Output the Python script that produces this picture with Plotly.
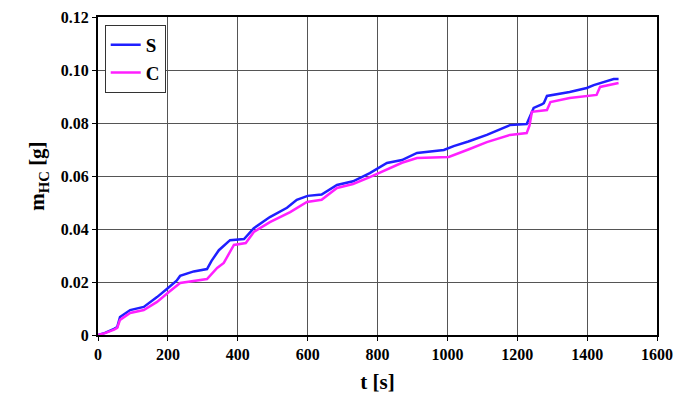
import plotly.graph_objects as go

# Series S (blue)
s_t = [0, 20, 46, 55, 63, 92, 131, 169, 203, 225, 235, 274, 312, 325, 346, 378,
       418, 446, 492, 541, 569, 600, 640, 684, 730, 778, 827, 870, 913, 990,
       1018, 1060, 1113, 1179, 1227, 1235, 1247, 1270, 1276, 1285, 1350, 1399,
       1419, 1476, 1490]
s_m = [0, 0.0008, 0.0023, 0.003, 0.0068, 0.0094, 0.0106, 0.0143, 0.018, 0.0205,
       0.0223, 0.024, 0.0249, 0.028, 0.032, 0.0358, 0.0362, 0.0403, 0.0445,
       0.048, 0.051, 0.0525, 0.053, 0.0566, 0.058, 0.0611, 0.0649, 0.066,
       0.0687, 0.0698, 0.0713, 0.073, 0.0755, 0.0792, 0.0796, 0.082, 0.0857,
       0.087, 0.0875, 0.0902, 0.0917, 0.0932, 0.0943, 0.0966, 0.0966]

# Series C (magenta)
c_t = [0, 20, 46, 55, 63, 92, 131, 169, 203, 235, 312, 341, 360, 389, 423, 446,
       492, 550, 598, 640, 684, 730, 778, 827, 870, 913, 1004, 1060, 1113, 1179,
       1227, 1235, 1242, 1285, 1295, 1350, 1427, 1437, 1490]
c_m = [0, 0.0007, 0.002, 0.0027, 0.0057, 0.0083, 0.0094, 0.0125, 0.0162, 0.0196,
       0.0211, 0.0253, 0.0272, 0.034, 0.0347, 0.0389, 0.0426, 0.0464, 0.0502,
       0.051, 0.0555, 0.057, 0.0596, 0.0625, 0.065, 0.0668, 0.0672, 0.070,
       0.0728, 0.0755, 0.0762, 0.079, 0.0842, 0.0849, 0.0879, 0.0894, 0.0906,
       0.0936, 0.0951]

x_ticks = [0, 200, 400, 600, 800, 1000, 1200, 1400, 1600]
y_ticks = [0, 0.02, 0.04, 0.06, 0.08, 0.10, 0.12]
y_tick_labels = ["0", "0.02", "0.04", "0.06", "0.08", "0.10", "0.12"]

font_family = "Liberation Serif"

fig = go.Figure()
fig.add_trace(go.Scatter(x=s_t, y=s_m, mode="lines", name="<b>S</b>",
                         line=dict(color="#1f1fff", width=2.5)))
fig.add_trace(go.Scatter(x=c_t, y=c_m, mode="lines", name="<b>C</b>",
                         line=dict(color="#ff1fff", width=2.5)))

axis_common = dict(
    showline=True, linecolor="black", linewidth=2, mirror=True,
    showgrid=True, gridcolor="#555555", gridwidth=1,
    ticks="outside", ticklen=4, tickcolor="black",
    zeroline=False, automargin=False, ticklabeloverflow="allow",
    tickfont=dict(family=font_family, size=16, color="black"),
)

# page body has an 8px margin, so the figure is offset by 8px
fig.update_layout(
    width=666, height=390,
    margin=dict(l=90, r=17, t=9, b=63),
    paper_bgcolor="white", plot_bgcolor="white",
    font=dict(family=font_family, color="black"),
    showlegend=True,
    legend=dict(x=0.012, y=0.975, xanchor="left", yanchor="top",
                bgcolor="white", bordercolor="#333333", borderwidth=1,
                font=dict(family=font_family, size=19, color="black"),
                tracegroupgap=0, itemwidth=30),
    xaxis=dict(range=[0, 1600], tickvals=x_ticks,
               ticktext=["<b>%d</b>" % v for v in x_ticks],
               title=dict(text="<b>t [s]</b>", font=dict(family=font_family, size=21), standoff=12),
               **axis_common),
    yaxis=dict(range=[0, 0.12], tickvals=y_ticks,
               ticktext=["<b>%s</b>" % t for t in y_tick_labels],
               title=dict(text="<b>m<sub>HC</sub> [g]</b>", font=dict(family=font_family, size=21), standoff=10),
               **axis_common),
)

fig.write_html("out.html")
